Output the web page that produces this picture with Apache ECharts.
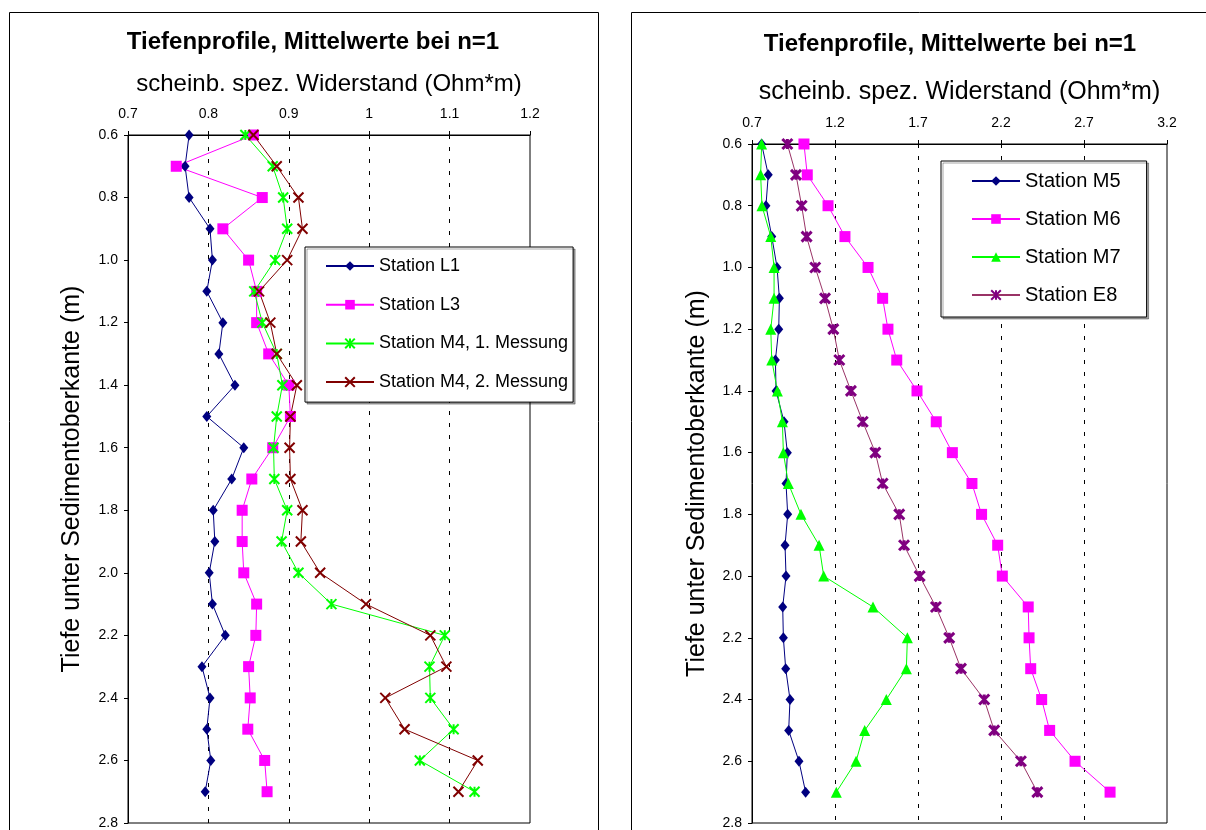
<!DOCTYPE html>
<html><head><meta charset="utf-8">
<script src="https://cdn.jsdelivr.net/npm/echarts@6/dist/echarts.min.js"></script>
<style>html,body{margin:0;padding:0;background:#fff}#c{width:1206px;height:830px}</style>
</head><body><div id="c"></div>
<script>
// ---- data ----
const depths = [0.6,0.7,0.8,0.9,1.0,1.1,1.2,1.3,1.4,1.5,1.6,1.7,1.8,1.9,2.0,2.1,2.2,2.3,2.4,2.5,2.6,2.7];
const stationL1 = [0.776,0.771,0.776,0.802,0.805,0.798,0.818,0.813,0.833,0.798,0.844,0.829,0.806,0.808,0.801,0.805,0.821,0.792,0.802,0.798,0.803,0.796];
const stationL3 = [0.856,0.760,0.867,0.818,0.850,0.860,0.860,0.875,0.900,0.902,0.880,0.854,0.842,0.842,0.844,0.860,0.859,0.850,0.852,0.849,0.870,0.873];
const stationM4a = [0.846,0.880,0.893,0.898,0.883,0.857,0.867,0.885,0.892,0.885,0.881,0.882,0.898,0.891,0.912,0.953,1.094,1.075,1.076,1.105,1.063,1.131];
const stationM4b = [0.856,0.885,0.912,0.917,0.898,0.863,0.877,0.885,0.910,0.902,0.901,0.902,0.917,0.915,0.939,0.996,1.076,1.096,1.020,1.044,1.135,1.111];
const stationM5 = [0.758,0.798,0.784,0.819,0.851,0.865,0.861,0.841,0.845,0.893,0.913,0.905,0.915,0.899,0.905,0.885,0.889,0.903,0.929,0.921,0.983,1.023];
const stationM6 = [1.013,1.033,1.158,1.260,1.399,1.487,1.519,1.572,1.694,1.810,1.907,2.025,2.083,2.180,2.208,2.364,2.369,2.379,2.445,2.493,2.646,2.857];
const stationM7 = [0.758,0.752,0.760,0.813,0.833,0.833,0.813,0.819,0.853,0.883,0.889,0.919,0.995,1.104,1.132,1.429,1.636,1.630,1.509,1.379,1.327,1.208];
const stationE8 = [0.913,0.965,0.999,1.029,1.081,1.140,1.190,1.226,1.296,1.367,1.443,1.487,1.587,1.616,1.710,1.808,1.888,1.959,2.099,2.159,2.320,2.419];
const namesLeft = ['Station L1','Station L3','Station M4, 1. Messung','Station M4, 2. Messung'];
const namesRight = ['Station M5','Station M6','Station M7','Station E8'];
const chartTitle = 'Tiefenprofile, Mittelwerte bei n=1';
const xName = 'scheinb. spez. Widerstand (Ohm*m)';
const yName = 'Tiefe unter Sedimentoberkante (m)';

// ---- chart ----
const FONT = 'Liberation Sans, Arial, sans-serif';
const XSTAR = 'path://M0,0L10,10M10,0L0,10M5,0L5,10';
const XMARK = 'path://M0,0L10,10M10,0L0,10';
const pairs = vals => vals.map((v, i) => [v, depths[i]]);

function xAxisCfg(grid, min, max, interval, nameSize) {
  return {
    type: 'value', gridIndex: grid, position: 'top', min, max, interval,
    axisLine: {show: true, lineStyle: {color: '#000', width: 1}},
    axisTick: {show: true, length: 4, lineStyle: {color: '#000'}},
    axisLabel: {margin: 14, fontSize: 14, color: '#000', fontFamily: FONT,
      formatter: v => String(+(+v).toFixed(1))},
    splitLine: {show: true, showMinLine: false, showMaxLine: false,
      lineStyle: {color: '#000', type: [4, 8], width: 1}},
    name: xName, nameLocation: 'middle', nameGap: 39,
    nameTextStyle: {fontSize: nameSize, color: '#000', fontFamily: FONT}
  };
}
function yAxisCfg(grid, gap) {
  return {
    type: 'value', gridIndex: grid, inverse: true, min: 0.6, max: 2.8, interval: 0.2,
    axisLine: {show: true, lineStyle: {color: '#000', width: 1}},
    axisTick: {show: true, length: 4, lineStyle: {color: '#000'}},
    axisLabel: {margin: 10, fontSize: 14, color: '#000', fontFamily: FONT,
      formatter: v => (+v).toFixed(1)},
    splitLine: {show: false},
    name: yName, nameLocation: 'middle', nameGap: gap,
    nameTextStyle: {fontSize: 25, color: '#000', fontFamily: FONT}
  };
}
function ser(name, vals, gi, color, lineColor, symbol, size, stroke) {
  const s = {
    name, type: 'line', xAxisIndex: gi, yAxisIndex: gi, data: pairs(vals),
    symbol, symbolSize: size, showAllSymbol: true,
    lineStyle: {color: lineColor, width: 1},
    itemStyle: {color: color, borderColor: color, borderWidth: 0},
    emphasis: {disabled: true}, z: 3
  };
  if (stroke) s.itemStyle = {color: color, borderColor: color, borderWidth: stroke};
  return s;
}
function legendCfg(data, left, top, gap, pad, fs) {
  return {
    data, orient: 'vertical', left, top, itemWidth: 48, itemHeight: 12, itemGap: gap,
    padding: pad, borderColor: '#000', borderWidth: 1, backgroundColor: '#fff',
    shadowColor: 'rgba(0,0,0,0.35)', shadowBlur: 0, shadowOffsetX: 2, shadowOffsetY: 2,
    textStyle: {fontSize: fs, color: '#000', fontFamily: FONT}, selectedMode: false
  };
}

const chart = echarts.init(document.getElementById('c'), null, {renderer: 'canvas'});
chart.setOption({
  animation: false,
  backgroundColor: '#fff',
  grid: [
    {left: 128, top: 135, width: 402, height: 689, show: true, borderColor: '#000', borderWidth: 1},
    {left: 752, top: 144, width: 415, height: 679, show: true, borderColor: '#000', borderWidth: 1}
  ],
  xAxis: [xAxisCfg(0, 0.7, 1.2, 0.1, 24), xAxisCfg(1, 0.7, 3.2, 0.5, 25)],
  yAxis: [yAxisCfg(0, 43), yAxisCfg(1, 42)],
  legend: [
    legendCfg(namesLeft, 305, 247, 20.7, [10, 5, 11, 20], 18),
    legendCfg(namesRight, 941, 161, 18, [10, 26, 12, 30], 20)
  ],
  graphic: [
    {type: 'rect', shape: {x: 9.5, y: 12.5, width: 589, height: 840}, style: {fill: 'none', stroke: '#000', lineWidth: 1}, silent: true},
    {type: 'rect', shape: {x: 631.5, y: 12.5, width: 620, height: 840}, style: {fill: 'none', stroke: '#000', lineWidth: 1}, silent: true},
    {type: 'text', x: 313, y: 42, style: {text: chartTitle, font: 'bold 24px ' + FONT, fill: '#000', textAlign: 'center', textVerticalAlign: 'middle'}, silent: true},
    {type: 'text', x: 950, y: 44, style: {text: chartTitle, font: 'bold 24px ' + FONT, fill: '#000', textAlign: 'center', textVerticalAlign: 'middle'}, silent: true}
  ],
  series: [
    ser(namesLeft[0], stationL1, 0, '#000080', '#000080', 'diamond', [9, 11]),
    ser(namesLeft[1], stationL3, 0, '#FF00FF', '#FF00FF', 'rect', 11),
    ser(namesLeft[2], stationM4a, 0, '#00FF00', '#00FF00', XSTAR, 10, 2),
    ser(namesLeft[3], stationM4b, 0, '#800000', '#800000', XMARK, 10, 2),
    ser(namesRight[0], stationM5, 1, '#000080', '#000080', 'diamond', [9, 11]),
    ser(namesRight[1], stationM6, 1, '#FF00FF', '#FF00FF', 'rect', 11),
    ser(namesRight[2], stationM7, 1, '#00FF00', '#00FF00', 'triangle', 11),
    ser(namesRight[3], stationE8, 1, '#800080', '#993366', XSTAR, 10, 3)
  ]
});
</script>
</body></html>
